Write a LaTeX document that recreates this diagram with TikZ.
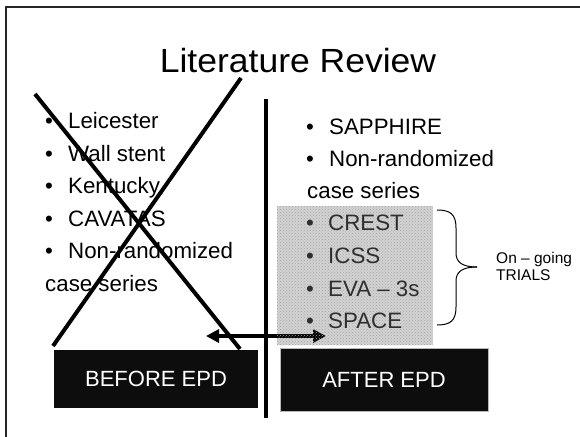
\documentclass[tikz,border=0pt]{standalone}
\usepackage{fontspec}
\setmainfont{Liberation Sans}
\usetikzlibrary{arrows.meta,patterns}
\begin{document}
\begin{tikzpicture}[x=1pt,y=-1pt,
  bul/.style={anchor=base west,inner sep=0pt,font=\fontsize{22.3}{26}\selectfont},
  xline/.style={line width=4pt},
  epdbox/.style={fill=black!95,text=white,inner sep=0pt,font=\fontsize{22}{26}\selectfont},
  small/.style={anchor=base west,inner sep=0pt,font=\fontsize{15.5}{17}\selectfont}]
\useasboundingbox (0,0) rectangle (580,436);
\clip (0,0) rectangle (580,436);
\fill[white] (0,0) rectangle (580,436);
% frame
\draw[line width=2pt,black!85] (6,7) rectangle (620,470);
% title
\node[anchor=base,inner sep=0pt,xscale=1.06,font=\fontsize{33.5}{40}\selectfont] (title) at (298,72) {Literature Review};
% left list
\foreach \t/\y [count=\i] in {Leicester/128,Wall stent/161,Kentucky/193,CAVATAS/226,Non-randomized/258}{
  \node[bul] (lb\i) at (45,\y) {•};
  \node[bul] (lt\i) at (68,\y) {\t};
}
\node[bul] (lcase) at (45,291) {case series};
% grey box background
\fill[gray!35] (277,206) rectangle (433,345);
% right list
\foreach \t/\y [count=\i] in {SAPPHIRE/134,Non-randomized/166}{
  \node[bul] (rb\i) at (306,\y) {•};
  \node[bul] (rt\i) at (329,\y) {\t};
}
\node[bul] (rcase) at (307,198) {case series};
% cross
\coordinate (x1a) at (35,94); \coordinate (x1b) at (240,349);
\coordinate (x2a) at (241,78); \coordinate (x2b) at (53,346);
\draw[xline] (x1a) -- (x1b);
\draw[xline] (x2a) -- (x2b);
% divider
\coordinate (va) at (266,99); \coordinate (vb) at (266,418);
\draw[line width=4pt] (va) -- (vb);
% double arrow
\coordinate (aL) at (206,336); \coordinate (aR) at (326,336);
\draw[line width=3.5pt,{Triangle[length=13pt,width=13pt]}-{Triangle[length=13pt,width=13pt]}] (aL) -- (aR);
% pattern over grey box
\fill[pattern=crosshatch dots,pattern color=gray!70] (277,206) rectangle (433,345);
\foreach \t/\y [count=\i] in {CREST/230,ICSS/263,EVA – 3s/296,SPACE/328}{
  \node[bul,text=black!82] (gb\i) at (306,\y) {•};
  \node[bul,text=black!82] (gt\i) at (328,\y) {\t};
}
% boxes
\node[epdbox,minimum width=204pt,minimum height=58pt] (before) at (156,379) {BEFORE EPD};
\node[epdbox,draw=gray!55,line width=1pt,minimum width=208pt,minimum height=63pt] (after) at (384,379.5) {AFTER EPD};
% brace
\coordinate (bt) at (437,210); \coordinate (bm) at (477,267); \coordinate (bb) at (437,325);
\draw[line width=1pt] (bt) .. controls (450,210) and (456,214) .. (456,228) -- (456,253)
  .. controls (456,262) and (462,267) .. (bm);
\draw[line width=1pt] (bb) .. controls (450,325) and (456,321) .. (456,307) -- (456,281)
  .. controls (456,272) and (462,267) .. (bm);
\node[small] (og) at (496,263) {On – going};
\node[small] (tr) at (496,280) {TRIALS};
\end{tikzpicture}
\end{document}
